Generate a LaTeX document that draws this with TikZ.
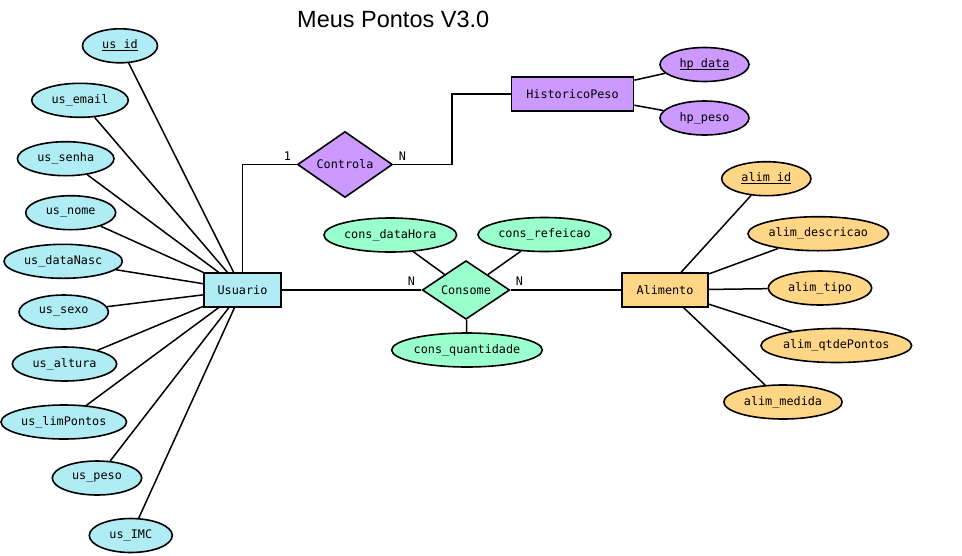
\documentclass[tikz,border=0pt]{standalone}
\usepackage{fontspec}
\usetikzlibrary{shapes.geometric,calc}
\newfontfamily\monofam{DejaVu Sans Mono}
\newfontfamily\titlefam{Liberation Sans}
\definecolor{ucyan}{HTML}{B0ECF4}
\definecolor{upurple}{HTML}{CC99FF}
\definecolor{ugreen}{HTML}{99FFCC}
\definecolor{uorange}{HTML}{FFD685}
\newcommand\keyul[1]{\leavevmode\setbox0\hbox{#1}\rlap{\rule[-2.6pt]{\wd0}{1.4pt}}\box0}
\tikzset{
  base/.style={draw=black, line width=1.6pt, inner sep=0pt, font=\monofam\fontsize{11.8}{13}\selectfont},
  entity/.style={base, rectangle},
  attr/.style={base, ellipse, minimum height=34pt},
  rel/.style={base, diamond},
  conn/.style={line width=1.5pt},
  card/.style={inner sep=0pt, font=\monofam\fontsize{11.8}{13}\selectfont},
}
\begin{document}
\begin{tikzpicture}[x=1pt,y=-1pt]
\useasboundingbox (0,0) rectangle (962,555);
\node[anchor=base west, inner sep=0pt, font=\titlefam\fontsize{23.5}{28}\selectfont] (title) at (297,27) {Meus Pontos V3.0};

% entities
\node[entity, fill=ucyan, minimum width=77pt, minimum height=34pt] (us) at (242.5,290) {Usuario};
\node[entity, fill=upurple, minimum width=122pt, minimum height=34pt] (hp) at (572.5,94) {HistoricoPeso};
\node[entity, fill=uorange, minimum width=86pt, minimum height=33.5pt] (al) at (665,290) {Alimento};

% relationships
\node[rel, fill=upurple, minimum width=95pt, minimum height=56pt] (ctl) at (345,164.5) {Controla};
\node[rel, fill=ugreen, minimum width=87.5pt, minimum height=52pt] (cons) at (466,290) {Consome};

% Usuario attributes
\node[attr, fill=ucyan, minimum width=75pt] (usid) at (120,45.8) {\keyul{us\_id}};
\node[attr, fill=ucyan, minimum width=96.6pt] (usemail) at (80,100.3) {us\_email};
\node[attr, fill=ucyan, minimum width=96.6pt] (ussenha) at (65.7,158.7) {us\_senha};
\node[attr, fill=ucyan, minimum width=90pt] (usnome) at (70.7,212.7) {us\_nome};
\node[attr, fill=ucyan, minimum width=118.4pt] (usdn) at (63.2,261.3) {us\_dataNasc};
\node[attr, fill=ucyan, minimum width=89.4pt] (ussexo) at (63.7,312) {us\_sexo};
\node[attr, fill=ucyan, minimum width=104.4pt] (usalt) at (64.5,364) {us\_altura};
\node[attr, fill=ucyan, minimum width=125.6pt] (uslim) at (63.8,422) {us\_limPontos};
\node[attr, fill=ucyan, minimum width=89.4pt] (uspeso) at (97,478) {us\_peso};
\node[attr, fill=ucyan, minimum width=83pt] (usimc) at (130.8,535.5) {us\_IMC};

% HistoricoPeso attributes
\node[attr, fill=upurple, minimum width=89pt] (hpdata) at (704.5,64.5) {\keyul{hp\_data}};
\node[attr, fill=upurple, minimum width=89pt] (hppeso) at (704.5,118) {hp\_peso};

% Consome attributes
\node[attr, fill=ugreen, minimum width=132.7pt] (cdh) at (390.3,235) {cons\_dataHora};
\node[attr, fill=ugreen, minimum width=133pt] (cref) at (544.5,234.5) {cons\_refeicao};
\node[attr, fill=ugreen, minimum width=147.7pt] (cqt) at (467,350) {cons\_quantidade};

% Alimento attributes
\node[attr, fill=uorange, minimum width=89.3pt] (alid) at (766.3,178.7) {\keyul{alim\_id}};
\node[attr, fill=uorange, minimum width=140pt] (aldesc) at (818.3,233.7) {alim\_descricao};
\node[attr, fill=uorange, minimum width=103.4pt] (altipo) at (820,288) {alim\_tipo};
\node[attr, fill=uorange, minimum width=147.3pt] (alqtd) at (836.3,345.5) {alim\_qtdePontos};
\node[attr, fill=uorange, minimum width=118.3pt] (almed) at (783,402) {alim\_medida};

% connectors
\foreach \a in {usid,usemail,ussenha,usnome,usdn,ussexo,usalt,uslim,uspeso,usimc}
  \draw[conn] (\a) -- (us);
\foreach \a in {hpdata,hppeso}
  \draw[conn] (\a) -- (hp);
\foreach \a in {cdh,cref,cqt}
  \draw[conn] (\a) -- (cons);
\foreach \a in {alid,aldesc,altipo,alqtd,almed}
  \draw[conn] (\a) -- (al);

\draw[conn] (us.north) |- (ctl.west);
\draw[conn] (ctl.east) -| ($(ctl.east)!0.5!(hp.west)$) |- (hp.west);
\draw[conn] (us.east) -- (cons.west);
\draw[conn] (cons.east) -- (al.west);

% cardinalities
\node[card] (c1) at (287.5,156) {1};
\node[card] (c2) at (402.5,156) {N};
\node[card] (c3) at (411.5,281) {N};
\node[card] (c4) at (519.5,281) {N};
\end{tikzpicture}
\end{document}
